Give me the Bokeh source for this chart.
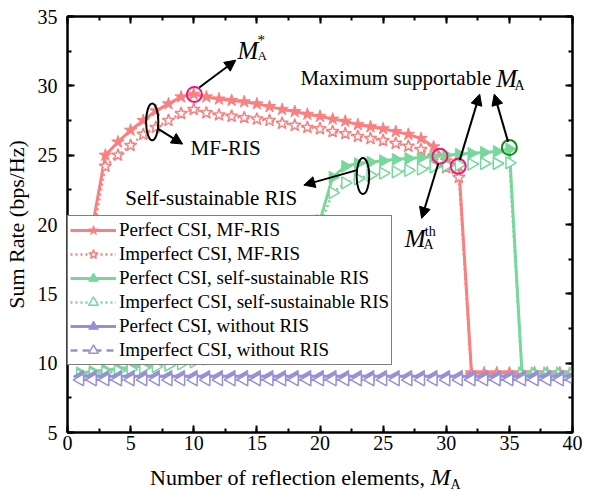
import math
from bokeh.plotting import figure
from bokeh.layouts import column
from bokeh.models import (LinearAxis, SingleIntervalTicker, Legend, LegendItem,
                          Label, Arrow, NormalHead, Range1d, Div)
from bokeh.embed import file_html
from bokeh.resources import INLINE

# ---------------- data ----------------
M = list(range(1, 41))

red_perfect = [14.0, 20.0, 25.0, 25.95, 26.8, 27.5, 28.2, 28.7, 29.2, 29.4,
               29.2, 29.05, 28.95, 28.85, 28.7, 28.5, 28.3, 28.15, 27.95, 27.8,
               27.6, 27.45, 27.2, 27.05, 26.9, 26.7, 26.5, 26.2, 25.6, 24.6,
               24.2, 9.3, 9.3, 9.3, 9.3, 9.3, 9.3, 9.3, 9.3, 9.3]
red_imperfect = [13.2, 19.2, 24.2, 25.0, 25.7, 26.5, 27.0, 27.5, 28.0, 28.3,
                 28.05, 27.9, 27.8, 27.7, 27.6, 27.5, 27.3, 27.15, 27.0, 26.9,
                 26.7, 26.55, 26.35, 26.2, 26.05, 25.85, 25.65, 25.4, 24.9, 24.1,
                 23.4, 9.15, 9.15, 9.15, 9.15, 9.15, 9.15, 9.15, 9.15, 9.15]
green_perfect = [9.3, 9.4, 9.5, 9.6, 9.7, 9.8, 9.9, 10.0, 10.1, 10.3,
                 10.5, 10.7, 11.0, 11.4, 11.9, 12.6, 13.6, 15.0, 17.2, 20.3,
                 23.4, 24.2, 24.4, 24.5, 24.6, 24.7, 24.76, 24.83, 24.9, 25.0,
                 25.07, 25.13, 25.2, 25.27, 25.45, 9.3, 9.3, 9.3, 9.3, 9.3]
green_imperfect = [9.15, 9.25, 9.35, 9.45, 9.55, 9.65, 9.75, 9.85, 9.95, 10.1,
                   10.3, 10.5, 10.8, 11.2, 11.7, 12.4, 13.4, 14.8, 17.0, 19.9,
                   22.3, 23.0, 23.3, 23.55, 23.7, 23.8, 23.9, 24.0, 24.15, 24.25,
                   24.3, 24.35, 24.4, 24.4, 24.45, 9.15, 9.15, 9.15, 9.15, 9.15]
purple_perfect = [9.05, 9.05, 9.05, 9.05, 9.05, 9.05, 9.05, 9.05, 9.05, 9.05,
                  9.05, 9.05, 9.05, 9.05, 9.05, 9.05, 9.05, 9.05, 9.05, 9.05,
                  9.05, 9.05, 9.05, 9.05, 9.05, 9.05, 9.05, 9.05, 9.05, 9.05,
                  9.05, 9.05, 9.05, 9.05, 9.05, 9.05, 9.05, 9.05, 9.05, 9.05]
purple_imperfect = [8.8, 8.8, 8.8, 8.8, 8.8, 8.8, 8.8, 8.8, 8.8, 8.8,
                    8.8, 8.8, 8.8, 8.8, 8.8, 8.8, 8.8, 8.8, 8.8, 8.8,
                    8.8, 8.8, 8.8, 8.8, 8.8, 8.8, 8.8, 8.8, 8.8, 8.8,
                    8.8, 8.8, 8.8, 8.8, 8.8, 8.8, 8.8, 8.8, 8.8, 8.8]

legend_labels = ["Perfect CSI, MF-RIS", "Imperfect CSI, MF-RIS",
                 "Perfect CSI, self-sustainable RIS", "Imperfect CSI, self-sustainable RIS",
                 "Perfect CSI, without RIS", "Imperfect CSI, without RIS"]

# highlighted points (annotation circles)
pink_x = [10.05, 29.5, 30.95]
pink_y = [29.38, 24.93, 24.2]
green_circle_x = [35.0]
green_circle_y = [25.55]

FONT = "Liberation Serif"
RED = "#FA8080"
GREEN = "#78D79B"
PURPLE = "#9691D7"
PINK = "#F0147F"
DKGREEN = "#138A13"

p = figure(width=594, height=458, x_range=Range1d(0, 40), y_range=Range1d(5, 35),
           output_backend="svg", toolbar_location=None,
           min_border_left=65, min_border_right=22, min_border_top=16, min_border_bottom=26)
p.xgrid.visible = False
p.ygrid.visible = False
p.outline_line_color = "black"
p.outline_line_width = 2
p.background_fill_color = "white"


def style_axis(ax, labels=True):
    ax.ticker = SingleIntervalTicker(interval=5, num_minor_ticks=2)
    ax.major_tick_in = 7
    ax.major_tick_out = 0
    ax.minor_tick_in = 4
    ax.minor_tick_out = 0
    ax.axis_line_width = 2
    ax.major_tick_line_width = 2
    ax.minor_tick_line_width = 2
    ax.major_label_text_font = FONT
    ax.major_label_text_color = "black"
    if labels:
        ax.major_label_text_font_size = "20px"
    else:
        ax.major_label_text_font_size = "1px"
        ax.major_label_text_color = None
        ax.major_label_standoff = 0


style_axis(p.xaxis[0])
style_axis(p.yaxis[0])
p.xaxis[0].major_label_standoff = 3
p.yaxis[0].major_label_standoff = 10
p.yaxis[0].axis_label = "Sum Rate (bps/Hz)"
p.yaxis[0].axis_label_text_font = FONT
p.yaxis[0].axis_label_text_font_size = "22px"
p.yaxis[0].axis_label_text_font_style = "normal"
p.yaxis[0].axis_label_text_color = "black"
p.yaxis[0].axis_label_standoff = 6

top_ax = LinearAxis()
right_ax = LinearAxis()
style_axis(top_ax, labels=False)
style_axis(right_ax, labels=False)
p.add_layout(top_ax, "above")
p.add_layout(right_ax, "right")

# ---------------- series ----------------
r1l = p.line(M, red_perfect, line_color=RED, line_width=3)
r1m = p.scatter(M, red_perfect, marker="star", size=13, fill_color=RED, line_color=RED)
r2l = p.line(M, red_imperfect, line_color=RED, line_width=2.5, line_dash="2 3")
r2m = p.scatter(M, red_imperfect, marker="star", size=13, fill_color="white",
                line_color=RED, line_width=1.5)
g1l = p.line(M, green_perfect, line_color=GREEN, line_width=3)
g1m = p.scatter(M, green_perfect, marker="triangle", size=12, angle=-math.pi / 2,
                fill_color=GREEN, line_color=GREEN)
g2l = p.line(M, green_imperfect, line_color=GREEN, line_width=2.5, line_dash="2 3")
g2m = p.scatter(M, green_imperfect, marker="triangle", size=12, angle=-math.pi / 2,
                fill_color="white", line_color=GREEN, line_width=1.5)
b1l = p.line(M, purple_perfect, line_color=PURPLE, line_width=3)
b1m = p.scatter(M, purple_perfect, marker="triangle", size=12, angle=math.pi / 2,
                fill_color=PURPLE, line_color=PURPLE)
b2l = p.line(M, purple_imperfect, line_color=PURPLE, line_width=2.5, line_dash="7 5")
b2m = p.scatter(M, purple_imperfect, marker="triangle", size=12, angle=math.pi / 2,
                fill_color="white", line_color=PURPLE, line_width=1.5)

# ---------------- annotations ----------------
p.scatter(pink_x, pink_y, marker="circle", size=15, fill_color=None,
          line_color=PINK, line_width=2)
p.scatter(green_circle_x, green_circle_y, marker="circle", size=15, fill_color=None,
          line_color=DKGREEN, line_width=2)

p.ellipse(x=[6.71, 23.4], y=[27.4, 23.5], width=[0.97, 1.0], height=[2.65, 2.6],
          fill_color=None, line_color="black", line_width=2)

arrows = [
    (10.44, 29.88, 13.33, 31.85),
    (7.15, 26.92, 9.12, 25.8),
    (22.93, 23.92, 18.72, 22.84),
    (31.07, 24.64, 32.65, 29.4),
    (34.9, 25.96, 33.8, 29.4),
    (29.37, 24.4, 28.05, 20.44),
]
for xs, ys, xe, ye in arrows:
    p.add_layout(Arrow(end=NormalHead(size=11, fill_color="black", line_color="black",
                                      line_width=1),
                       x_start=xs, y_start=ys, x_end=xe, y_end=ye,
                       line_color="black", line_width=2))


def txt(x, y, text, size, style="normal", align="left", baseline="middle"):
    p.add_layout(Label(x=x, y=y, text=text, text_font=FONT, text_font_size=size,
                       text_font_style=style, text_align=align, text_baseline=baseline,
                       text_color="black"))


# M_A^*
txt(13.46, 32.57, "M", "25px", "italic")
txt(15.05, 33.3, "*", "15px")
txt(15.05, 32.2, "A", "13px")
# MF-RIS
txt(9.75, 25.54, "MF-RIS", "21px")
# Self-sustainable RIS
txt(18.2, 21.94, "Self-sustainable RIS", "21px", align="right")
# Maximum supportable M_A
txt(33.57, 30.53, "Maximum supportable", "21px", align="right")
txt(33.97, 30.55, "M", "25px", "italic")
txt(35.4, 30.05, "A", "14px")
# M_A^th
txt(26.71, 18.98, "M", "25px", "italic")
txt(28.3, 19.5, "th", "14px")
txt(28.2, 18.55, "A", "14px")

# ---------------- legend ----------------
items = [
    LegendItem(label=legend_labels[0], renderers=[r1l, r1m]),
    LegendItem(label=legend_labels[1], renderers=[r2l, r2m]),
    LegendItem(label=legend_labels[2], renderers=[g1l, g1m]),
    LegendItem(label=legend_labels[3], renderers=[g2l, g2m]),
    LegendItem(label=legend_labels[4], renderers=[b1l, b1m]),
    LegendItem(label=legend_labels[5], renderers=[b2l, b2m]),
]
legend = Legend(items=items, location=(0, 67), margin=0, padding=2, spacing=0,
                label_height=24, glyph_height=24, glyph_width=46, label_standoff=3,
                label_text_font=FONT, label_text_font_size="19px",
                label_text_color="black", border_line_color="black", border_line_width=1,
                background_fill_color="white", background_fill_alpha=1.0)
p.add_layout(legend, "center")

# ---------------- x-axis title (below the plot) ----------------
x_title = Div(
    text=('<div style="font-family: \'Liberation Serif\'; font-size: 22px; color: black; '
          'line-height: 22px; padding-left: 150px; padding-top: 8px; white-space: nowrap;">'
          'Number of reflection elements, <i style="font-size: 24px;">M</i>'
          '<span style="font-size: 14px; line-height: 0; position: relative; top: 4px;">A</span>'
          '</div>'),
    width=594, height=33, margin=(0, 0, 0, 0))

layout = column(p, x_title, spacing=0, margin=(0, 0, 0, 0))
open("out.html", "w").write(file_html(layout, INLINE))
